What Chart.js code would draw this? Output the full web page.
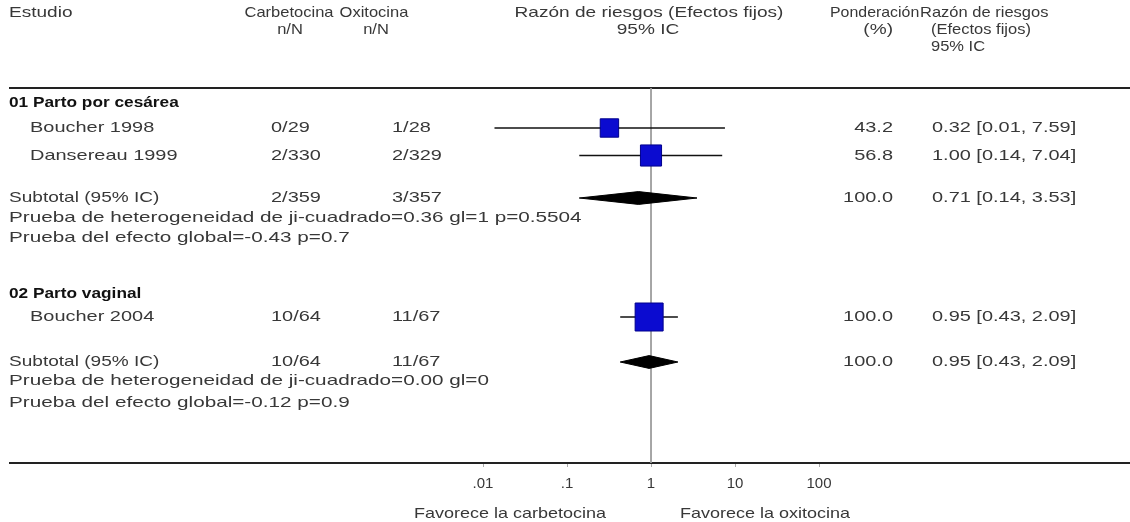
<!DOCTYPE html>
<html>
<head>
<meta charset="utf-8">
<script src="https://cdn.jsdelivr.net/npm/chart.js@4.4.1/dist/chart.umd.min.js"></script>
<style>
  html, body { margin: 0; padding: 0; background: #ffffff; }
  #wrap { width: 1130px; height: 522px; position: relative; }
</style>
</head>
<body>
<div id="wrap"><canvas id="c" width="1130" height="522"></canvas></div>
<script>
// ---------------- DATA ----------------
const subgroups     = ['01 Parto por cesárea', '02 Parto vaginal'];
const studies       = ['Boucher 1998', 'Dansereau 1999', 'Boucher 2004'];
const studyGroup    = [0, 0, 1];
const carbetocina   = ['0/29', '2/330', '10/64'];
const oxitocina     = ['1/28', '2/329', '11/67'];
const studyRR       = [0.32, 1.00, 0.95];
const studyLow      = [0.0137, 0.14, 0.43];
const studyHigh     = [7.59, 7.04, 2.09];
const studyWeight   = [43.2, 56.8, 100.0];
const studyCI       = ['0.32 [0.01, 7.59]', '1.00 [0.14, 7.04]', '0.95 [0.43, 2.09]'];

const subCarb       = ['2/359', '10/64'];
const subOxi        = ['3/357', '11/67'];
const subRR         = [0.71, 0.95];
const subLow        = [0.14, 0.43];
const subHigh       = [3.53, 2.09];
const subWeight     = [100.0, 100.0];
const subCI         = ['0.71 [0.14, 3.53]', '0.95 [0.43, 2.09]'];
const hetText       = ['Prueba de heterogeneidad de ji-cuadrado=0.36 gl=1 p=0.5504',
                       'Prueba de heterogeneidad de ji-cuadrado=0.00 gl=0'];
const effText       = ['Prueba del efecto global=-0.43 p=0.7',
                       'Prueba del efecto global=-0.12 p=0.9'];

const tickValues    = [0.01, 0.1, 1, 10, 100];
const tickLabels    = ['.01', '.1', '1', '10', '100'];
const favLeft       = 'Favorece la carbetocina';
const favRight      = 'Favorece la oxitocina';

// ---------------- LAYOUT (row positions in line units, 20px each) ----------------
const Y_MAX = 18.75;
const rowHead  = [0.75, 10.3];
const rowStudy = [2.0, 3.375, 11.45];
const rowSub   = [5.5, 13.7];
const rowHet   = [6.5, 14.65];
const rowEff   = [7.5, 15.75];
const DIA_H    = 0.32;

const SX = 1.33, SXT = 1.38, SXH = 1.27, SXN = 1.1, SXP = 1.06, SXF = 1.2, SXB = 1.15;
const FONT = '"Liberation Sans", Arial, sans-serif';
const TXT = '#383838';

// ---------------- DATASETS ----------------
const datasets = [];
// reference line at 1
datasets.push({ data: [{x: 1, y: 0}, {x: 1, y: Y_MAX}], showLine: true, pointRadius: 0,
  borderColor: '#9a9a9a', borderWidth: 1, order: 5 });
// whiskers
studies.forEach((s, i) => {
  datasets.push({ data: [{x: studyLow[i], y: rowStudy[i]}, {x: studyHigh[i], y: rowStudy[i]}],
    showLine: true, pointRadius: 0, borderColor: '#111111', borderWidth: 1.6, order: 4 });
});
// squares
datasets.push({
  data: studies.map((s, i) => ({x: studyRR[i], y: rowStudy[i]})),
  pointStyle: 'rect',
  pointRadius: studyWeight.map(w => 2.8 * Math.sqrt(w) / Math.SQRT2),
  backgroundColor: '#0b0bd0', borderColor: '#00008c', borderWidth: 1, order: 1
});
// diamonds
subgroups.forEach((g, i) => {
  const y = rowSub[i];
  datasets.push({
    data: [{x: subLow[i], y: y}, {x: subRR[i], y: y - DIA_H}, {x: subHigh[i], y: y},
           {x: subRR[i], y: y + DIA_H}, {x: subLow[i], y: y}],
    showLine: true, pointRadius: 0, tension: 0, fill: 'shape',
    borderColor: '#000000', backgroundColor: '#000000', borderWidth: 1, order: 2
  });
});

// ---------------- PLUGIN: table text & rules ----------------
function txt(ctx, s, x, y, align, sx, bold) {
  ctx.save();
  ctx.font = (bold ? 'bold ' : '') + '15px ' + FONT;
  ctx.fillStyle = bold ? '#111111' : TXT;
  ctx.textBaseline = 'middle';
  ctx.textAlign = align || 'left';
  ctx.translate(x, y);
  ctx.scale(sx || SX, 1);
  ctx.fillText(s, 0, 0);
  ctx.restore();
}

const tablePlugin = {
  id: 'table',
  beforeDatasetsDraw(chart) {
    const ctx = chart.ctx, a = chart.chartArea;
    ctx.save();
    ctx.strokeStyle = '#222222';
    ctx.lineWidth = 2;
    [a.top, a.bottom].forEach(yy => {
      ctx.beginPath(); ctx.moveTo(9, yy); ctx.lineTo(1130, yy); ctx.stroke();
    });
    ctx.restore();
  },
  afterDraw(chart) {
    const ctx = chart.ctx, ys = chart.scales.y, xs = chart.scales.x, a = chart.chartArea;
    const X = {study: 9, name: 30, carb: 271, oxi: 392, wR: 893, ci: 932};
    const one = xs.getPixelForValue(1);
    // header
    txt(ctx, 'Estudio', 9, 13, 'left', SXH);
    txt(ctx, 'Carbetocina', 289, 13, 'center', SXN);
    txt(ctx, 'n/N', 290, 30, 'center', SXN);
    txt(ctx, 'Oxitocina', 374, 13, 'center', SXN);
    txt(ctx, 'n/N', 376, 30, 'center', SXN);
    txt(ctx, 'Razón de riesgos (Efectos fijos)', one - 2, 13, 'center', SXH);
    txt(ctx, '95% IC', one - 3, 30, 'center', SXH);
    txt(ctx, 'Ponderación', 830, 13, 'left', SXP);
    txt(ctx, '(%)', 893, 30, 'right', SXH);
    txt(ctx, 'Razón de riesgos', 920, 13, 'left', SXN);
    txt(ctx, '(Efectos fijos)', 931, 30, 'left', SXN);
    txt(ctx, '95% IC', 931, 47, 'left', SXN);
    // groups
    subgroups.forEach((g, gi) => {
      txt(ctx, g, X.study, ys.getPixelForValue(rowHead[gi]), 'left', SXB, true);
      studies.forEach((s, i) => {
        if (studyGroup[i] !== gi) return;
        const y = ys.getPixelForValue(rowStudy[i]);
        txt(ctx, s, X.name, y);
        txt(ctx, carbetocina[i], X.carb, y);
        txt(ctx, oxitocina[i], X.oxi, y);
        txt(ctx, studyWeight[i].toFixed(1), X.wR, y, 'right');
        txt(ctx, studyCI[i], X.ci, y);
      });
      const y = ys.getPixelForValue(rowSub[gi]);
      txt(ctx, 'Subtotal (95% IC)', X.study, y, 'left', SXH);
      txt(ctx, subCarb[gi], X.carb, y);
      txt(ctx, subOxi[gi], X.oxi, y);
      txt(ctx, subWeight[gi].toFixed(1), X.wR, y, 'right');
      txt(ctx, subCI[gi], X.ci, y);
      txt(ctx, hetText[gi], X.study, ys.getPixelForValue(rowHet[gi]), 'left', SXT);
      txt(ctx, effText[gi], X.study, ys.getPixelForValue(rowEff[gi]), 'left', SXT);
    });
    // favours
    txt(ctx, favLeft, one - 45, a.bottom + 51, 'right', SXF);
    txt(ctx, favRight, one + 29, a.bottom + 51, 'left', SXF);
  }
};

// ---------------- CHART ----------------
new Chart(document.getElementById('c'), {
  type: 'scatter',
  data: { datasets },
  plugins: [tablePlugin],
  options: {
    responsive: false,
    animation: false,
    devicePixelRatio: 1,
    layout: { padding: { left: 483, right: 311, top: 88, bottom: 21 } },
    plugins: { legend: { display: false }, tooltip: { enabled: false } },
    scales: {
      x: {
        type: 'logarithmic', min: 0.01, max: 100, position: 'bottom',
        afterBuildTicks: s => { s.ticks = tickValues.map(v => ({ value: v })); },
        ticks: {
          autoSkip: false, maxRotation: 0, padding: 8, color: TXT,
          font: { family: FONT, size: 15 },
          callback: (v, i) => tickLabels[i]
        },
        grid: { drawOnChartArea: false, drawTicks: true, tickLength: 4, color: '#aaaaaa' },
        border: { display: false }
      },
      y: { type: 'linear', min: 0, max: Y_MAX, reverse: true, display: false }
    }
  }
});
</script>
</body>
</html>
